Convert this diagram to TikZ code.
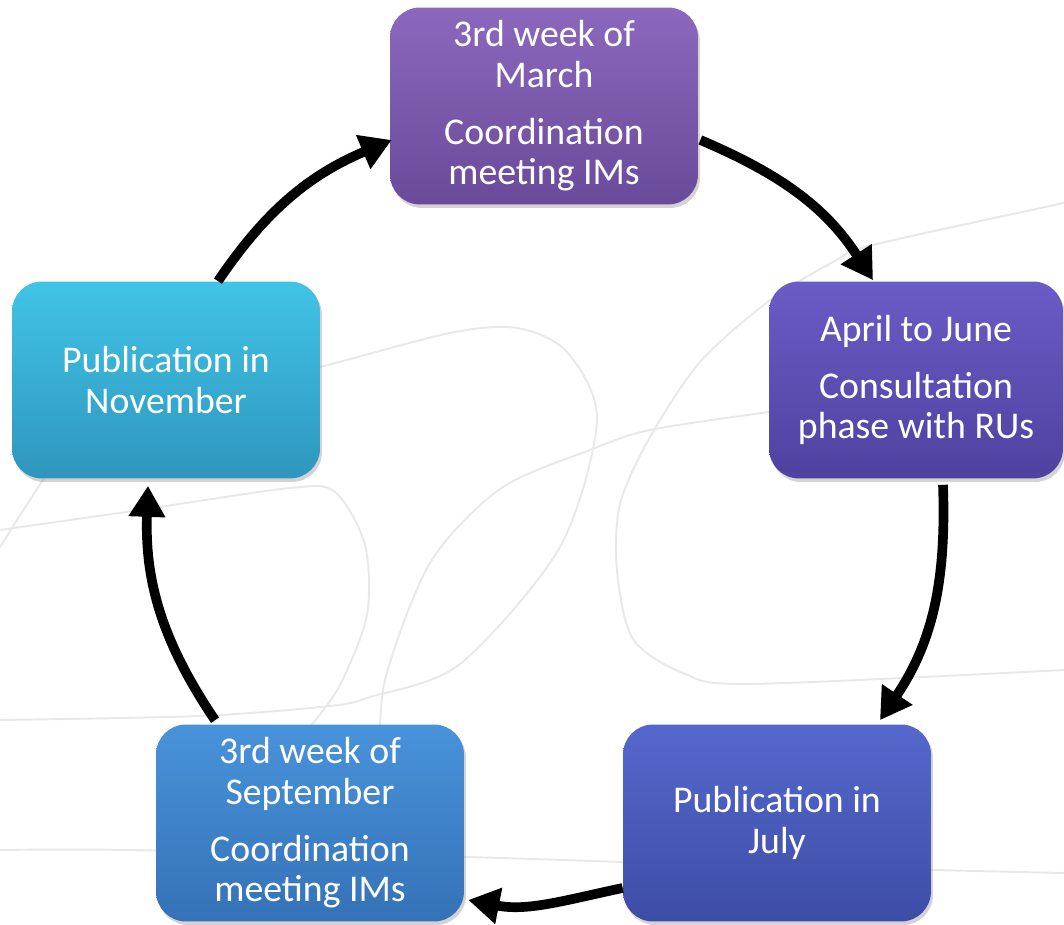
\documentclass[tikz,border=0pt]{standalone}
\usepackage{fontspec}
\setmainfont{Carlito}
\usetikzlibrary{arrows.meta,shadows}
\definecolor{martop}{HTML}{8B68BD}
\definecolor{marbot}{HTML}{6A4A9A}
\definecolor{aprtop}{HTML}{6B5BC6}
\definecolor{aprbot}{HTML}{4F41A0}
\definecolor{jultop}{HTML}{5568CC}
\definecolor{julbot}{HTML}{3D4DA6}
\definecolor{septop}{HTML}{4893DB}
\definecolor{sepbot}{HTML}{3572B7}
\definecolor{novtop}{HTML}{41C4E7}
\definecolor{novbot}{HTML}{2F96BD}
\tikzset{
  phase/.style={rounded corners=0.6cm, minimum width=6.16cm, minimum height=3.94cm,
    inner sep=0pt, align=center, text=white, font=\fontsize{21.5}{23}\selectfont,
    drop shadow={opacity=0.35, shadow xshift=0.04cm, shadow yshift=-0.07cm}},
  cyc/.style={line width=5.5pt, -{Triangle[length=0.62cm,width=0.7cm]}},
  swirl/.style={line width=1.1pt, black!9}
}
\begin{document}
\begin{tikzpicture}[x=0.02cm,y=0.02cm]
  \useasboundingbox (0,0) rectangle (1064,925);
  \draw[swirl] plot[smooth] coordinates {(0,205) (200,209) (330,219) (370,228) (460,261)
    (560,378) (597,505) (567,573) (517,597) (450,592) (320,558) (200,530)};
  \draw[swirl] plot[smooth] coordinates {(380,165) (385,245) (430,362) (500,436) (590,475)
    (650,495) (769,513) (900,530)};
  \draw[swirl] plot[smooth] coordinates {(1064,722) (873,680) (833,663) (769,624) (700,563)
    (650,488) (620,421) (617,354) (633,286) (683,252) (750,241) (1064,255)};
  \draw[swirl] plot[smooth] coordinates {(0,395) (140,415) (290,437) (335,433) (365,380)
    (367,310) (340,240) (310,198)};
  \draw[swirl] plot[smooth] coordinates {(0,378) (43,445) (70,480)};
  \draw[swirl] plot[smooth] coordinates {(0,75) (130,75) (464,68) (625,63)
    (934,55) (1064,52)};

  \node[phase, top color=martop, bottom color=marbot] (mar) at (544,819)
    {3rd week of\\March\\[0.34cm]Coordination\\meeting IMs};
  \node[phase, top color=aprtop, bottom color=aprbot, minimum width=5.88cm] (apr) at (916,545)
    {April to June\\[0.34cm]Consultation\\phase with RUs};
  \node[phase, top color=jultop, bottom color=julbot] (jul) at (777,102)
    {Publication in\\July};
  \node[phase, top color=septop, bottom color=sepbot] (sep) at (310,102)
    {3rd week of\\September\\[0.34cm]Coordination\\meeting IMs};
  \node[phase, top color=novtop, bottom color=novbot] (nov) at (166,545)
    {Publication in\\November};

  \draw[cyc] ([xshift=1.04cm]nov.north) to[out=56,in=203] ([xshift=0.04cm,yshift=-0.68cm]mar.west);
  \draw[cyc] ([xshift=0.04cm,yshift=-0.68cm]mar.east) to[out=-23,in=123] ([xshift=-0.86cm,yshift=0.02cm]apr.north);
  \draw[cyc] ([xshift=0.54cm,yshift=-0.12cm]apr.south) to[out=-88,in=56] ([xshift=2.06cm,yshift=0.08cm]jul.north);
  \draw[cyc] ([yshift=-1.3cm]jul.west) to[out=192,in=-11] ([xshift=0.08cm,yshift=-1.54cm]sep.east);
  \draw[cyc] ([xshift=-1.9cm,yshift=0.08cm]sep.north) to[out=124,in=268] ([xshift=-0.36cm,yshift=-0.14cm]nov.south);
\end{tikzpicture}
\end{document}
